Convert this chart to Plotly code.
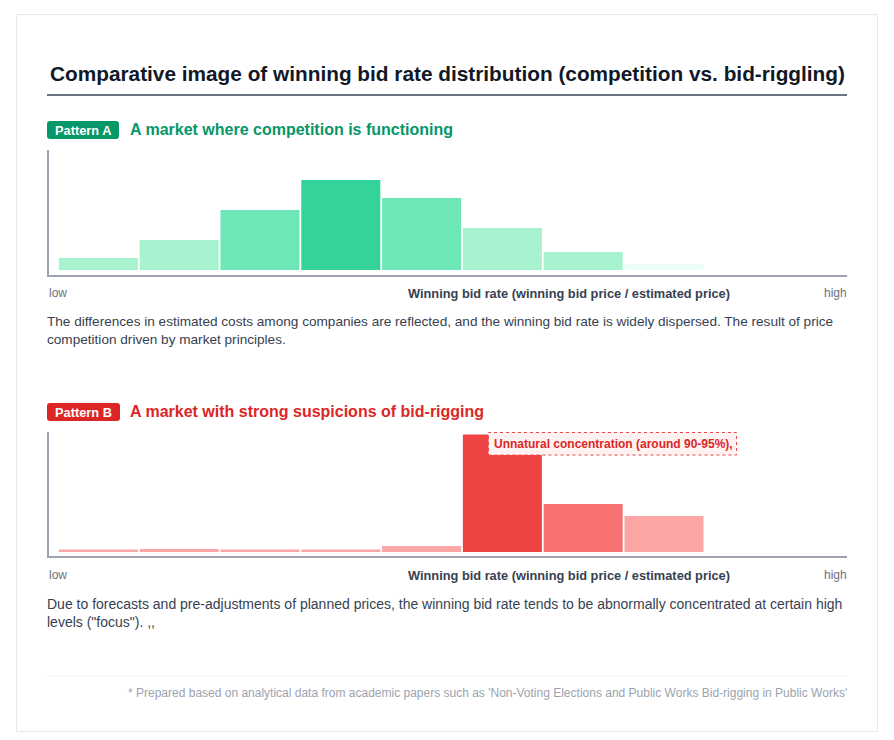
import plotly.graph_objects as go

W, H = 894, 740

# ---- data ----
bins = ["bin1", "bin2", "bin3", "bin4", "bin5", "bin6", "bin7", "bin8"]
pattern_a_share = [10, 25, 50, 75, 60, 35, 15, 5]
pattern_b_share = [2, 2.5, 2, 2, 5, 98, 40, 30]
pattern_a_colors = ["#a7f3d0", "#a7f3d0", "#6ee7b7", "#34d399", "#6ee7b7", "#a7f3d0", "#a7f3d0", "#ecfdf5"]
pattern_b_colors = ["#fca5a5", "#fca5a5", "#fca5a5", "#fca5a5", "#fca5a5", "#ef4444", "#f87171", "#fca5a5"]

title_text = "Comparative image of winning bid rate distribution (competition vs. bid-riggling)"
axis_label = "Winning bid rate (winning bid price / estimated price)"
desc_a = ("The differences in estimated costs among companies are reflected, and the winning bid rate is widely dispersed. The result of price"
          "<br>competition driven by market principles.")
desc_b = ("Due to forecasts and pre-adjustments of planned prices, the winning bid rate tends to be abnormally concentrated at certain high"
          "<br>levels (\"focus\"). ,,")
footer = "* Prepared based on analytical data from academic papers such as 'Non-Voting Elections and Public Works Bid-rigging in Public Works'"

FONT = "Liberation Sans, Arial, sans-serif"


def px(x):
    return x / W


def py(y):
    return 1 - y / H


fig = go.Figure()
fig.add_trace(go.Bar(x=bins, y=pattern_a_share, marker=dict(color=pattern_a_colors, line=dict(width=0)),
                     width=0.978, xaxis="x", yaxis="y", hoverinfo="skip"))
fig.add_trace(go.Bar(x=bins, y=pattern_b_share, marker=dict(color=pattern_b_colors, line=dict(width=0)),
                     width=0.978, xaxis="x2", yaxis="y2", hoverinfo="skip"))

xr = [-0.636, 9.265]
common_x = dict(range=xr, showgrid=False, zeroline=False, showticklabels=False, showline=False, fixedrange=True)
common_y = dict(range=[0, 100], showgrid=False, zeroline=False, showticklabels=False, showline=False, fixedrange=True)

fig.update_layout(
    width=W, height=H, margin=dict(l=0, r=0, t=0, b=0),
    paper_bgcolor="white", plot_bgcolor="rgba(0,0,0,0)", showlegend=False,
    font=dict(family=FONT),
    xaxis=dict(domain=[px(47), px(847)], anchor="y", **common_x),
    yaxis=dict(domain=[py(270), py(150)], anchor="x", **common_y),
    xaxis2=dict(domain=[px(47), px(847)], anchor="y2", **common_x),
    yaxis2=dict(domain=[py(552), py(432)], anchor="x2", **common_y),
)

shapes = []
annots = []


def text(t, x, y, size, color, xanchor="left", yanchor="middle", align="left"):
    # annotation boxes have a 2px inner offset; compensate
    dx = -2 if xanchor == "left" else (2 if xanchor == "right" else 0)
    annots.append(dict(text=t, x=px(x + dx), y=py(y), xref="paper", yref="paper", xanchor=xanchor,
                       yanchor=yanchor, align=align, showarrow=False, font=dict(size=size, color=color)))


# card border
shapes.append(dict(type="rect", xref="paper", yref="paper", x0=px(16.5), x1=px(877.5), y0=py(731.5), y1=py(14.5),
                   line=dict(color="#e5e7eb", width=1), fillcolor="rgba(0,0,0,0)", layer="below"))
# title
text("<b>" + title_text + "</b>", 447.5, 73, 20.8, "#111827", xanchor="center")
shapes.append(dict(type="line", xref="paper", yref="paper", x0=px(47), x1=px(847), y0=py(95), y1=py(95),
                   line=dict(color="#6b7280", width=2)))


def rounded(x0, y0, x1, y1, r):
    return (f"M {px(x0 + r)},{py(y0)} L {px(x1 - r)},{py(y0)} Q {px(x1)},{py(y0)} {px(x1)},{py(y0 + r)} "
            f"L {px(x1)},{py(y1 - r)} Q {px(x1)},{py(y1)} {px(x1 - r)},{py(y1)} "
            f"L {px(x0 + r)},{py(y1)} Q {px(x0)},{py(y1)} {px(x0)},{py(y1 - r)} "
            f"L {px(x0)},{py(y0 + r)} Q {px(x0)},{py(y0)} {px(x0 + r)},{py(y0)} Z")


def section(top, badge_w, badge_text, color, heading, plot_top, axis_y, label_y, desc, desc_y, desc_size):
    shapes.append(dict(type="path", xref="paper", yref="paper", path=rounded(47, top, 47 + badge_w, top + 18, 3),
                       fillcolor=color, line=dict(width=0)))
    text("<b>" + badge_text + "</b>", 47 + badge_w / 2, top + 9.5, 12.8, "white", xanchor="center")
    text("<b>" + heading + "</b>", 130, top + 8.5, 16, color)
    # axis lines
    shapes.append(dict(type="line", xref="paper", yref="paper", x0=px(48), x1=px(48), y0=py(plot_top), y1=py(axis_y + 1),
                       line=dict(color="#9ca3af", width=2)))
    shapes.append(dict(type="line", xref="paper", yref="paper", x0=px(47), x1=px(847), y0=py(axis_y), y1=py(axis_y),
                       line=dict(color="#9ca3af", width=2)))
    text("low", 49, label_y, 12, "#6b7280")
    text("<b>" + axis_label + "</b>", 408, label_y, 12.8, "#374151")
    text("high", 847, label_y, 12, "#6b7280", xanchor="right")
    text(desc, 47, desc_y, desc_size, "#374151", yanchor="top")


section(121, 72, "Pattern A", "#059669", "A market where competition is functioning", 150, 276, 293, desc_a, 312, 13.6)
section(403, 73, "Pattern B", "#dc2626", "A market with strong suspicions of bid-rigging", 432, 557, 575, desc_b, 594, 14)

# callout box on pattern B peak
shapes.append(dict(type="rect", xref="paper", yref="paper", x0=px(488.5), x1=px(736.5), y0=py(455), y1=py(432.5),
                   fillcolor="#fef2f2", line=dict(color="#ef4444", width=1, dash="dot")))
text("<b>Unnatural concentration (around 90-95%),</b>", 494, 444, 12, "#dc2626")

# footer
shapes.append(dict(type="line", xref="paper", yref="paper", x0=px(47), x1=px(847), y0=py(676), y1=py(676),
                   line=dict(color="#f0f0f0", width=1)))
text(footer, 847, 693, 12, "#9ca3af", xanchor="right")

fig.update_layout(shapes=shapes, annotations=annots)
fig.write_html("out.html")
